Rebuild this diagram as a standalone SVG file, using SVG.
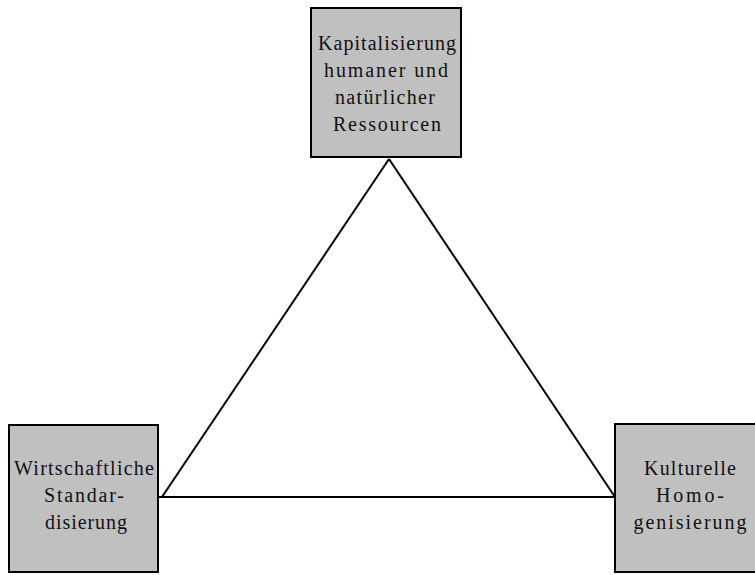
<svg xmlns="http://www.w3.org/2000/svg" width="755" height="575" viewBox="0 0 755 575">
<style>
.box{fill:#c0c0c0;stroke:#000;stroke-width:2}
.t{font-family:"Liberation Serif","Times New Roman",serif;font-size:20px;fill:#111;text-anchor:middle}
.edge{stroke:#000;stroke-width:2;fill:none}
</style>
<rect width="755" height="575" fill="#fff"/>
<g id="connectors">
<line class="edge" x1="389" y1="159" x2="162" y2="497"/>
<line class="edge" x1="389" y1="159" x2="615" y2="497"/>
<line class="edge" x1="158" y1="497" x2="615" y2="497"/>
</g>
<g id="node-kapitalisierung">
<rect class="box" x="311" y="8" width="150" height="149"/>
<text class="t" x="387" y="50" textLength="138" lengthAdjust="spacing">Kapitalisierung</text>
<text class="t" x="386" y="77" textLength="124" lengthAdjust="spacing">humaner und</text>
<text class="t" x="385" y="104" textLength="100" lengthAdjust="spacing">natürlicher</text>
<text class="t" x="387" y="131" textLength="108" lengthAdjust="spacing">Ressourcen</text>
</g>
<g id="node-wirtschaftliche">
<rect class="box" x="9" y="425" width="149" height="147"/>
<text class="t" x="84" y="475" textLength="140" lengthAdjust="spacing">Wirtschaftliche</text>
<text class="t" x="84" y="502" textLength="80" lengthAdjust="spacing">Standar-</text>
<text class="t" x="86" y="529" textLength="82" lengthAdjust="spacing">disierung</text>
</g>
<g id="node-kulturelle">
<rect class="box" x="615" y="424" width="150" height="148"/>
<text class="t" x="690" y="475" textLength="92" lengthAdjust="spacing">Kulturelle</text>
<text class="t" x="690" y="502" textLength="68" lengthAdjust="spacing">Homo-</text>
<text class="t" x="690" y="529" textLength="113" lengthAdjust="spacing">genisierung</text>
</g>
</svg>
